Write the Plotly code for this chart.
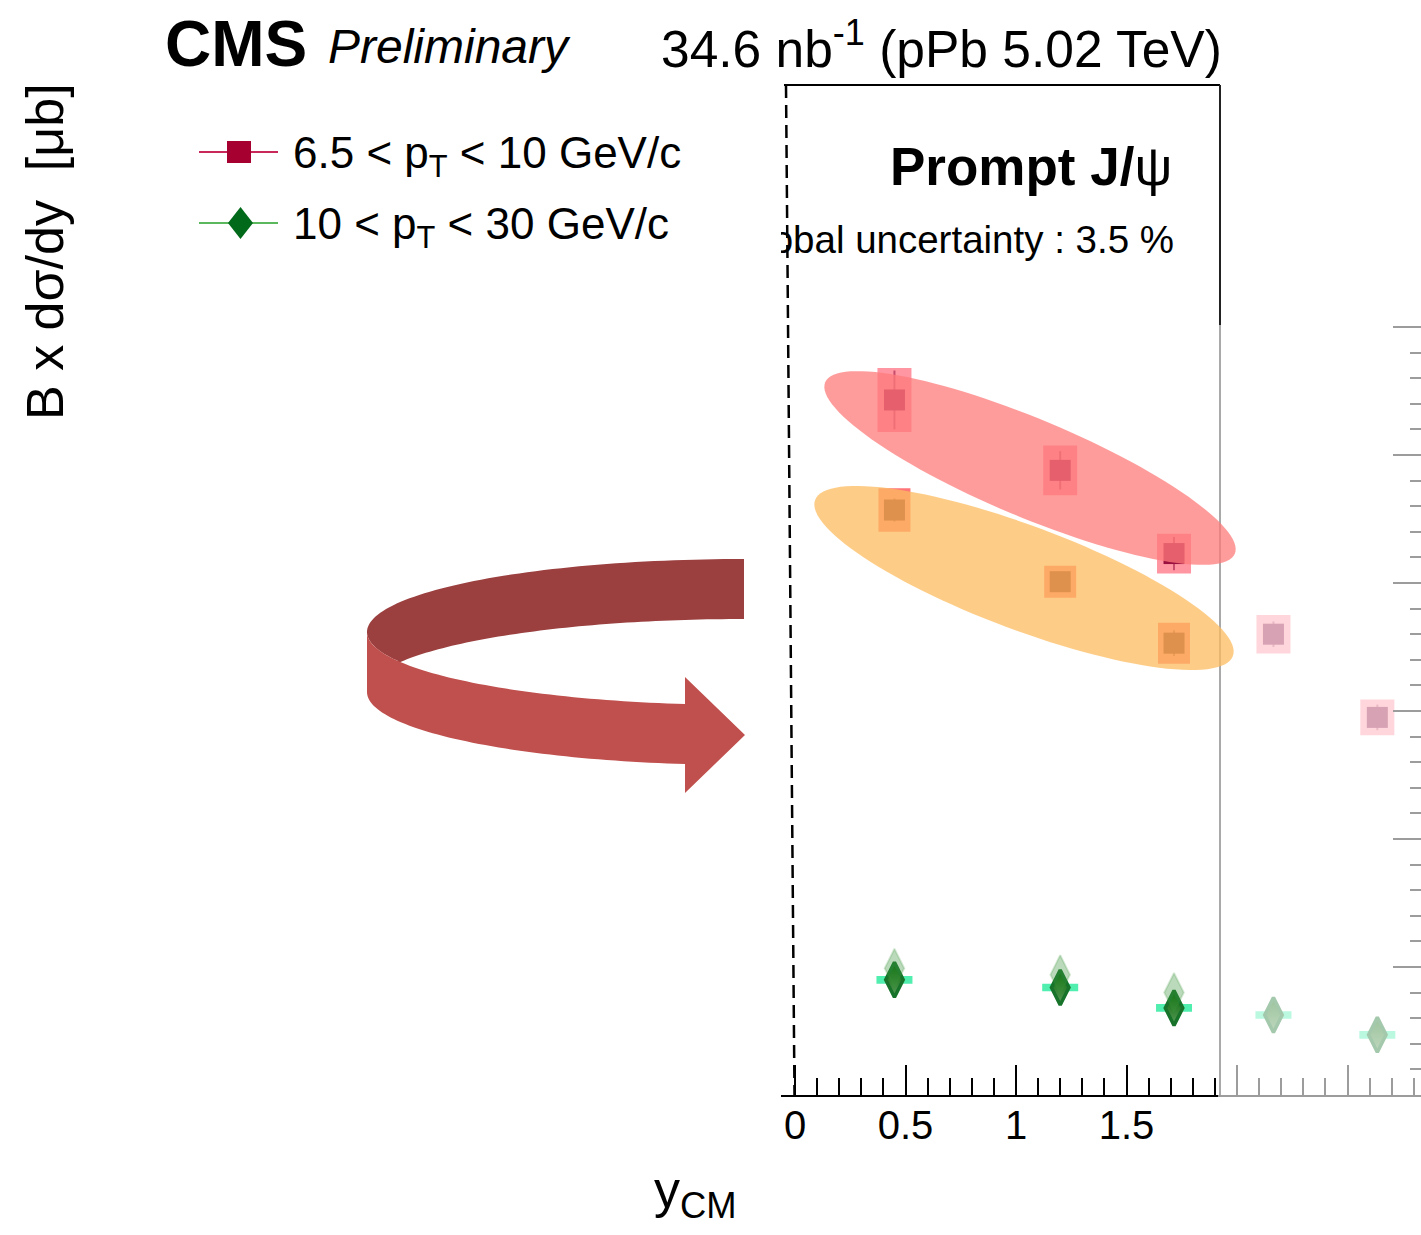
import numpy as np
import plotly.graph_objects as go

W, H = 1421, 1235
FONT = "Liberation Sans"

# rapidity bin centres in the centre-of-mass frame
y_cm = [0.45, 1.2, 1.715, 2.165, 2.635]
y_cm_mirror = [0.45, 1.2, 1.715]

# 6.5 < pT < 10 GeV/c
low_pt = [5.43, 4.88, 4.23, 3.60, 2.95]
low_pt_stat = [0.23, 0.15, 0.13, 0.10, 0.10]
low_pt_syst = [0.25, 0.195, 0.155, 0.15, 0.14]

# 6.5 < pT < 10 GeV/c, opposite rapidity side folded onto |y_CM|
low_pt_mirror = [4.57, 4.01, 3.53]
low_pt_mirror_stat = [0.09, 0.07, 0.10]
low_pt_mirror_syst = [0.17, 0.125, 0.16]

# 10 < pT < 30 GeV/c
high_pt = [0.90, 0.84, 0.68, 0.625, 0.47]
high_pt_syst = [0.03, 0.03, 0.03, 0.03, 0.03]
high_pt_mirror = [0.99, 0.94, 0.80]

# axis ticks
x_labelled = [0, 0.5, 1, 1.5]
x_unlabelled = [2, 2.5]
x_minor = [round(0.1 * i, 1) for i in range(1, 29) if i % 5]
y_major = [0, 1, 2, 3, 4, 5, 6]
y_minor = [round(0.2 * i, 1) for i in range(1, 31) if i % 5]

PX_PER_X = 221.0   # pixels per unit of y_CM
X0_PX = 795.0      # pixel column of y_CM = 0
PX_PER_Y = 128.0   # pixels per unit of cross section
PLOT_L, PLOT_T, PLOT_B = 781, 85, 1095


def px(x, y):
    return x / W, 1 - y / H


def path(points, close=True):
    pts = [px(x, y) for x, y in points]
    s = "M " + " L ".join(f"{a:.5f},{b:.5f}" for a, b in pts)
    return s + (" Z" if close else "")


def ellipse(cx, cy, a, b, theta_deg, n=120):
    th = np.radians(theta_deg)
    t = np.linspace(0, 2 * np.pi, n, endpoint=False)
    xs = cx + a * np.cos(t) * np.cos(th) - b * np.sin(t) * np.sin(th)
    ys = cy + a * np.cos(t) * np.sin(th) + b * np.sin(t) * np.cos(th)
    return list(zip(xs, ys))


def arc(cx, cy, rx, ry, t0, t1, n=60):
    t = np.radians(np.linspace(t0, t1, n))
    return list(zip(cx + rx * np.cos(t), cy - ry * np.sin(t)))


fig = go.Figure()

# systematic boxes
fig.add_trace(go.Scatter(
    x=y_cm, y=low_pt, mode="markers", marker=dict(size=1, color="rgba(0,0,0,0)"),
    error_y=dict(type="data", array=low_pt_syst, thickness=34, width=0,
                 color="rgb(255,150,162)"), showlegend=False, hoverinfo="skip"))
fig.add_trace(go.Scatter(
    x=y_cm_mirror, y=low_pt_mirror, mode="markers", marker=dict(size=1, color="rgba(0,0,0,0)"),
    error_y=dict(type="data", array=low_pt_mirror_syst, thickness=32, width=0,
                 color="rgb(255,116,120)"), showlegend=False, hoverinfo="skip"))

# low-pT points with statistical errors
fig.add_trace(go.Scatter(
    x=y_cm, y=low_pt, mode="markers",
    marker=dict(symbol="square", size=21, color="#9a1040"),
    error_y=dict(type="data", array=low_pt_stat, thickness=2, width=0,
                 color="rgba(154,16,64,0.55)"),
    showlegend=False))
fig.add_trace(go.Scatter(
    x=y_cm_mirror, y=low_pt_mirror, mode="markers",
    marker=dict(symbol="square", size=21, color="#801010"),
    error_y=dict(type="data", array=low_pt_mirror_stat, thickness=2, width=0,
                 color="rgba(128,16,16,0.6)"),
    showlegend=False))

# high-pT points
fig.add_trace(go.Scatter(
    x=y_cm_mirror, y=high_pt_mirror, mode="markers",
    marker=dict(symbol="diamond-tall", size=28, color="rgba(60,150,60,0.35)",
                line=dict(width=2, color="rgba(60,150,60,0.2)")),
    showlegend=False, xaxis="x2"))
fig.add_trace(go.Scatter(
    x=y_cm, y=high_pt, mode="markers", marker=dict(size=1, color="rgba(0,0,0,0)"),
    error_y=dict(type="data", array=high_pt_syst, thickness=36, width=0,
                 color="rgb(80,238,175)"), showlegend=False, hoverinfo="skip",
    yaxis="y2"))
fig.add_trace(go.Scatter(
    x=y_cm, y=high_pt, mode="markers",
    marker=dict(symbol="diamond-tall", size=25, color="#006400",
                line=dict(width=3.5, color="#17732a"),
                gradient=dict(type="vertical", color="#5a9a5a")),
    showlegend=False, yaxis="y2"))

# global uncertainty note, clipped at the left frame edge
fig.add_trace(go.Scatter(
    x=[(1174 - X0_PX) / PX_PER_X], y=[(PLOT_B - 243) / PX_PER_Y], mode="text",
    text=["Global uncertainty : 3.5 %"], textposition="middle left",
    textfont=dict(family=FONT, size=38.5, color="black"),
    cliponaxis=True, showlegend=False, hoverinfo="skip"))

y_range = [0, (PLOT_B - PLOT_T) / PX_PER_Y]
x_range = [(PLOT_L - X0_PX) / PX_PER_X, (W - X0_PX) / PX_PER_X]

shapes = []
# frame: top edge and right edge
shapes.append(dict(type="path", path=path([(784, 85), (1220, 85)], close=False),
                   xref="paper", yref="paper", line=dict(color="black", width=2), layer="above"))
shapes.append(dict(type="path", path=path([(1220, 85), (1220, 1095)], close=False),
                   xref="paper", yref="paper", line=dict(color="#222", width=2), layer="above"))
# dashed line at y_CM = 0
shapes.append(dict(type="path", path=path([(786, 85), (794.5, 1095)], close=False),
                   xref="paper", yref="paper", line=dict(color="black", width=2.5, dash="13px,7px"),
                   layer="above"))
# whitened extension beyond the frame
x0, y0 = px(1218, 325)
x1, y1 = px(1421, 1112)
shapes.append(dict(type="rect", x0=x0, x1=x1, y0=y1, y1=y0, xref="paper", yref="paper",
                   fillcolor="white", opacity=0.61, line=dict(width=0), layer="above"))
# highlight ellipses
shapes.append(dict(type="path", path=path(ellipse(1030, 468, 222, 49, 22.7)),
                   xref="paper", yref="paper", fillcolor="rgb(254,123,123)", opacity=0.75,
                   line=dict(width=0), layer="above"))
shapes.append(dict(type="path", path=path(ellipse(1024, 578, 223, 52, 20.5)),
                   xref="paper", yref="paper", fillcolor="rgb(252,188,96)", opacity=0.75,
                   line=dict(width=0), layer="above"))

# curved ribbon arrow
cx, rx, ry = 744, 377, 73
cy_top, cy_bot = 632, 692
dark = (arc(cx, cy_top, rx, ry, 90, 180) + arc(cx, cy_top, rx, ry, 180, 203.4)
        + arc(cx, cy_bot, rx, ry, 156.6, 90))
shapes.append(dict(type="path", path=path(dark), xref="paper", yref="paper",
                   fillcolor="#9b3f3f", line=dict(width=0), layer="above"))
light = ([(367, cy_top)] + arc(cx, cy_top, rx, ry, 180, 261)
         + [(685, 677), (745, 735), (685, 793)]
         + arc(cx, cy_bot, rx, ry, 261, 180))
shapes.append(dict(type="path", path=path(light), xref="paper", yref="paper",
                   fillcolor="#c0504d", line=dict(width=0), layer="above"))

# legend glyphs
shapes.append(dict(type="path", path=path([(199, 152), (278, 152)], close=False),
                   xref="paper", yref="paper", line=dict(color="#c8285a", width=2)))
sx0, sy0 = px(227, 141)
sx1, sy1 = px(251, 163)
shapes.append(dict(type="rect", x0=sx0, x1=sx1, y0=sy1, y1=sy0, xref="paper", yref="paper",
                   fillcolor="#a50030", line=dict(width=0)))
shapes.append(dict(type="path", path=path([(199, 223), (278, 223)], close=False),
                   xref="paper", yref="paper", line=dict(color="#5cb85c", width=2)))
shapes.append(dict(type="path", path=path([(240.5, 207), (253, 223), (240.5, 239), (228, 223)]),
                   xref="paper", yref="paper", fillcolor="#006a1a", line=dict(width=0)))


def ann(text, x, y, size, xanchor="left", yanchor="middle", angle=0, **font):
    ax, ay = px(x, y)
    return dict(text=text, x=ax, y=ay, xref="paper", yref="paper", showarrow=False,
                xanchor=xanchor, yanchor=yanchor, textangle=angle,
                font=dict(family=FONT, size=size, color="black", **font))


annotations = [
    ann("<b>CMS</b>", 163, 44, 64),
    ann("<i>Preliminary</i>", 326, 47, 48),
    ann("34.6 nb<sup>-1</sup> (pPb 5.02 TeV)", 1224, 45, 51.5, xanchor="right"),
    ann("6.5 &lt; p<sub>T</sub> &lt; 10 GeV/c", 291, 156, 44),
    ann("10 &lt; p<sub>T</sub> &lt; 30 GeV/c", 291, 227, 44),
    ann("<b>Prompt J/</b>ψ", 1174, 166, 53, xanchor="right"),
    ann("B x dσ/dy  [μb]", 45, 252, 52, xanchor="center", angle=-90),
    ann("y<sub>CM</sub>", 695, 1193, 52, xanchor="center"),
]

tick_style = dict(ticks="inside", tickwidth=2, tickcolor="black")

fig.update_layout(
    width=W, height=H, autosize=False,
    margin=dict(l=0, r=0, t=0, b=0, pad=0),
    paper_bgcolor="white", plot_bgcolor="white",
    showlegend=False,
    xaxis=dict(
        domain=[PLOT_L / W, 1.0], range=x_range,
        showline=True, linecolor="black", linewidth=2, mirror=False,
        ticklen=30, tickvals=x_labelled, ticklabelstandoff=-6,
        tickfont=dict(family=FONT, size=40, color="black"),
        minor=dict(tickvals=x_minor, ticklen=17, **tick_style),
        showgrid=False, zeroline=False, anchor="y", **tick_style,
    ),
    xaxis2=dict(
        overlaying="x", anchor="y", side="bottom", range=x_range,
        showline=False, showticklabels=False, showgrid=False, zeroline=False,
        ticklen=30, tickvals=x_unlabelled, **tick_style,
    ),
    yaxis=dict(
        domain=[1 - PLOT_B / H, 1 - PLOT_T / H], range=y_range,
        showline=False, showticklabels=False, ticks="", showgrid=False, zeroline=False,
    ),
    yaxis2=dict(
        overlaying="y", side="right", anchor="x", range=y_range,
        showline=False, showticklabels=False, showgrid=False, zeroline=False,
        ticklen=28, tickvals=y_major,
        minor=dict(tickvals=y_minor, ticklen=11, **tick_style), **tick_style,
    ),
    shapes=shapes,
    annotations=annotations,
)

fig.write_html("out.html")
